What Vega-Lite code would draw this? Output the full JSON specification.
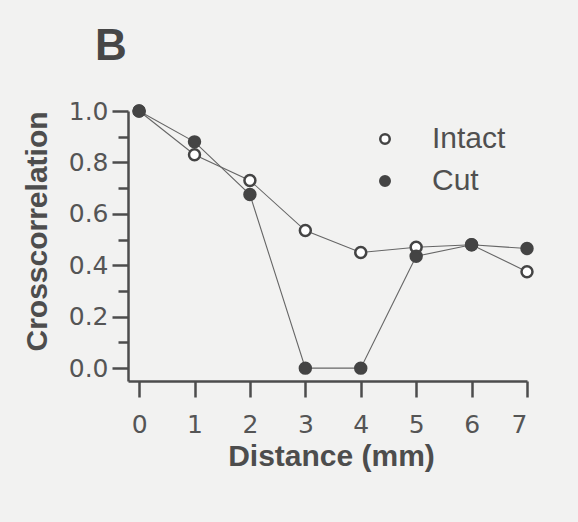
{
  "$schema": "https://vega.github.io/schema/vega-lite/v6.json",
  "autosize": {"type": "none"},
  "padding": {"left": 128, "top": 111, "right": 51, "bottom": 141},
  "width": 399,
  "height": 270,
  "background": "#f2f2f1",
  "title": {
    "text": "B",
    "anchor": "start",
    "frame": "group",
    "fontSize": 44,
    "fontWeight": "bold",
    "font": "Liberation Sans",
    "color": "#474747",
    "dx": -33,
    "dy": 45,
    "baseline": "alphabetic",
    "offset": 40
  },
  "config": {
    "view": {"stroke": null},
    "font": "Liberation Sans",
    "axis": {
      "domainColor": "#4d4d4d",
      "domainWidth": 2.5,
      "tickColor": "#4d4d4d",
      "tickWidth": 2.5,
      "labelColor": "#555555",
      "labelFont": "DejaVu Sans",
      "labelFontSize": 25,
      "titleColor": "#4d4d4d",
      "titleFont": "Liberation Sans",
      "titleFontSize": 30,
      "titleFontWeight": "bold",
      "grid": false
    },
    "legend": {
      "orient": "none",
      "legendX": 242,
      "legendY": 13,
      "padding": 0,
      "labelFont": "Liberation Sans",
      "labelFontSize": 30,
      "labelColor": "#505050",
      "labelOffset": 32,
      "rowPadding": 12,
      "symbolSize": 90,
      "symbolStrokeColor": "#444444",
      "symbolStrokeWidth": 2.5,
      "title": null
    }
  },
  "data": {
    "values": [
      {"distance": 0, "value": 1.0, "series": "Intact"},
      {"distance": 1, "value": 0.83, "series": "Intact"},
      {"distance": 2, "value": 0.73, "series": "Intact"},
      {"distance": 3, "value": 0.535, "series": "Intact"},
      {"distance": 4, "value": 0.45, "series": "Intact"},
      {"distance": 5, "value": 0.47, "series": "Intact"},
      {"distance": 6, "value": 0.48, "series": "Intact"},
      {"distance": 7, "value": 0.375, "series": "Intact"},
      {"distance": 0, "value": 1.0, "series": "Cut"},
      {"distance": 1, "value": 0.88, "series": "Cut"},
      {"distance": 2, "value": 0.675, "series": "Cut"},
      {"distance": 3, "value": 0.0, "series": "Cut"},
      {"distance": 4, "value": 0.0, "series": "Cut"},
      {"distance": 5, "value": 0.435, "series": "Cut"},
      {"distance": 6, "value": 0.48, "series": "Cut"},
      {"distance": 7, "value": 0.465, "series": "Cut"}
    ]
  },
  "encoding": {
    "x": {
      "field": "distance",
      "type": "quantitative",
      "scale": {"domain": [-0.2, 7], "nice": false, "zero": false},
      "axis": {
        "title": "Distance (mm)",
        "values": [0, 1, 2, 3, 4, 5, 6, 7],
        "tickSize": 16,
        "labelPadding": 15,
        "titleX": 203,
        "titleY": 84,
        "titleBaseline": "alphabetic"
      }
    },
    "y": {
      "field": "value",
      "type": "quantitative",
      "scale": {"domain": [-0.05, 1.0], "nice": false, "zero": false},
      "axis": {
        "title": "Crosscorrelation",
        "values": [0, 0.1, 0.2, 0.3, 0.4, 0.5, 0.6, 0.7, 0.8, 0.9, 1.0],
        "labelExpr": "round(datum.value*10) % 2 == 0 ? format(datum.value, '.1f') : ''",
        "tickSize": {"condition": {"test": "round(datum.value*10) % 2 == 1", "value": 10}, "value": 16},
        "labelPadding": 4,
        "titleX": -91,
        "titleY": 120,
        "titleBaseline": "middle"
      }
    }
  },
  "layer": [
    {
      "mark": {"type": "line", "stroke": "#666666", "strokeWidth": 1.1},
      "encoding": {"detail": {"field": "series", "type": "nominal"}}
    },
    {
      "mark": {"type": "point", "filled": true, "size": 120, "stroke": "#444444", "strokeWidth": 2.5, "opacity": 1},
      "encoding": {
        "fill": {
          "field": "series",
          "type": "nominal",
          "scale": {"domain": ["Intact", "Cut"], "range": ["#ffffff", "#444444"]},
          "legend": {"symbolType": "circle"}
        }
      }
    }
  ]
}
